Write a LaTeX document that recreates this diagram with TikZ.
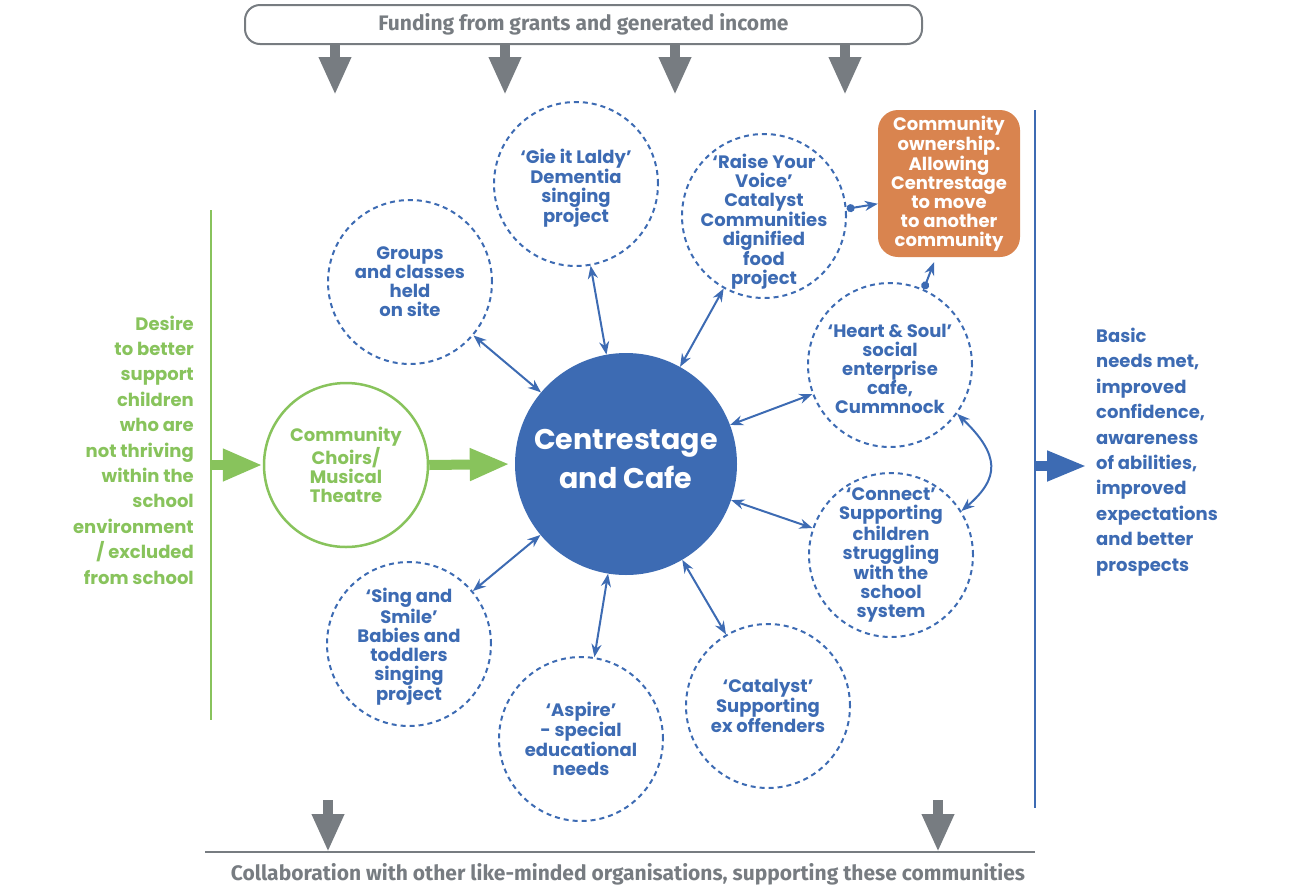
\documentclass[tikz,border=0pt]{standalone}
\usepackage{fontspec}
\setmainfont{Poppins}
\newfontfamily\narrowfont{Fira Sans}
\usetikzlibrary{arrows.meta}
\definecolor{cblue}{HTML}{3D6BB3}
\definecolor{cgreen}{HTML}{88C35C}
\definecolor{cgray}{HTML}{777C81}
\definecolor{corange}{HTML}{D9844F}
\tikzset{
  dcirc/.style={circle,draw=cblue,line width=2pt,dash pattern=on 5pt off 4pt,minimum size=164pt,inner sep=0pt},
  ctext/.style={font=\bfseries\fontsize{18}{19}\selectfont,align=center,text=cblue,inner sep=0pt},
  conn/.style={draw=cblue,line width=2pt,{Stealth[length=13pt,width=10pt]}-{Stealth[length=13pt,width=10pt]}},
  garrow/.style={draw=cgray,line width=10pt,-{Triangle[length=38pt,width=30pt]}},
  grarrow/.style={draw=cgreen,line width=10pt,-{Triangle[length=40pt,width=30pt]}},
  blarrow/.style={draw=cblue,line width=10pt,-{Triangle[length=40pt,width=28pt]}},
  dotarrow/.style={draw=cblue,line width=2pt,{Circle[length=8pt]}-{Stealth[length=13pt,width=10pt]}},
  graytext/.style={font=\narrowfont\bfseries\fontsize{21}{23}\selectfont,text=cgray},
}
\begin{document}
\begin{tikzpicture}[x=1pt,y=-1pt]
\useasboundingbox (0,0) rectangle (1300,892);
% top funding box
\node[draw=cgray,line width=2pt,rounded corners=15pt,minimum width=677pt,minimum height=39pt,inner sep=0pt] (fund) at (583.5,24.5) {};
\node[graytext] (fundtext) at ([yshift=0.5pt]fund.center) {Funding from grants and generated income};
\foreach \x/\n in {335/t1,505/t2,675/t3,845/t4}{
  \coordinate (\n) at (\x,95);
  \draw[garrow] (fund.south -| \n) -- (\n);
}
% bottom line
\coordinate (bl) at (205,852);
\coordinate (br) at (1035,852);
\draw[cgray,line width=2.5pt] (bl) -- (br);
\coordinate (b1) at (328,852);
\coordinate (b2) at (938,852);
\coordinate (b1s) at (328,800);
\coordinate (b2s) at (938,800);
\draw[garrow] (b1s) -- (b1);
\draw[garrow] (b2s) -- (b2);
\node[graytext] (collab) at (628,874) {Collaboration with other like-minded organisations, supporting these communities};

% centre
\node[circle,fill=cblue,minimum size=222pt,inner sep=0pt] (center) at (626,464) {};
\node[font=\bfseries\fontsize{28.5}{39}\selectfont,text=white,align=center] at ([yshift=5pt]center.center) {Centrestage\\and Cafe};

% dashed circles
\node[dcirc] (groups) at (410,282) {};
\node[ctext] at (groups) {Groups\\and classes\\held\\on site};
\node[dcirc] (gie) at (576,184) {};
\node[ctext] at ([yshift=-4pt]gie.center) {‘Gie it Laldy’\\Dementia\\singing\\project};
\node[dcirc] (raise) at (764,216) {};
\node[ctext] at ([yshift=-6pt]raise.center) {‘Raise Your\\Voice’\\Catalyst\\Communities\\dignified\\food\\project};
\node[dcirc] (heart) at (890,365) {};
\node[ctext] at ([yshift=-4pt]heart.center) {‘Heart \& Soul’\\social\\enterprise\\cafe,\\Cummnock};
\node[dcirc] (connect) at (891,555) {};
\node[ctext] at (connect) {‘Connect’\\Supporting\\children\\struggling\\with the\\school\\system};
\node[dcirc] (sing) at (409,644) {};
\node[ctext] at ([yshift=-3pt]sing.center) {‘Sing and\\Smile’\\Babies and\\toddlers\\singing\\project};
\node[dcirc] (aspire) at (581,739) {};
\node[ctext] at (aspire) {‘Aspire’\\- special\\educational\\needs};
\node[dcirc] (catalyst) at (768,706) {};
\node[ctext] at (catalyst) {‘Catalyst’\\Supporting\\ex offenders};

% orange box
\node[fill=corange,rounded corners=20pt,minimum width=142pt,minimum height=147pt,inner sep=0pt] (orange) at (949,183.5) {};
\node[ctext,text=white] at (orange) {Community\\ownership.\\Allowing\\Centrestage\\to move\\to another\\community};

% connectors
\draw[conn] (groups) -- (center);
\draw[conn] (gie) -- (center);
\draw[conn] (raise) -- (center);
\draw[conn] (heart) -- (center);
\draw[conn] (connect) -- (center);
\draw[conn] (sing) -- (center);
\draw[conn] (aspire) -- (center);
\draw[conn] (catalyst) -- (center);
\draw[conn] (heart.-36) .. controls (1000,455) and (1000,478) .. (connect.32);
\draw[dotarrow] (raise.5) -- ([yshift=5pt]raise.5 -| orange.west);
\draw[dotarrow] (heart.66) -- ([xshift=-15pt,yshift=-5pt]orange.south);

% green side
\coordinate (gtop) at (211,210);
\coordinate (gbot) at (211,720);
\draw[cgreen,line width=2.5pt] (gtop) -- (gbot);
\node[circle,draw=cgreen,line width=2.5pt,minimum size=164pt,inner sep=0pt] (choir) at (346,465) {};
\node[ctext,text=cgreen] at (choir) {Community\\Choirs/\\Musical\\Theatre};
\coordinate (gmid) at (211,465);
\draw[grarrow] (gmid) -- (choir.west);
\draw[grarrow,shorten >=5pt] (choir.east) -- (center.west);
\node[ctext,text=cgreen,align=right,anchor=east,font=\bfseries\fontsize{18}{25.4}\selectfont] (desire) at (194,450) {Desire\\to better\\support\\children\\who are\\not thriving\\within the\\school\\environment\\/ excluded\\from school};

% blue side
\coordinate (btop) at (1035,110);
\coordinate (bbot) at (1035,808);
\draw[cblue,line width=2.5pt] (btop) -- (bbot);
\coordinate (bmid) at (1035,466);
\coordinate (btip) at (1087,466);
\draw[blarrow] (bmid) -- (btip);
\node[ctext,align=left,anchor=west,font=\bfseries\fontsize{18}{25.4}\selectfont] (basic) at (1096,452) {Basic\\needs met,\\improved\\confidence,\\awareness\\of abilities,\\improved\\expectations\\and better\\prospects};
\end{tikzpicture}
\end{document}
